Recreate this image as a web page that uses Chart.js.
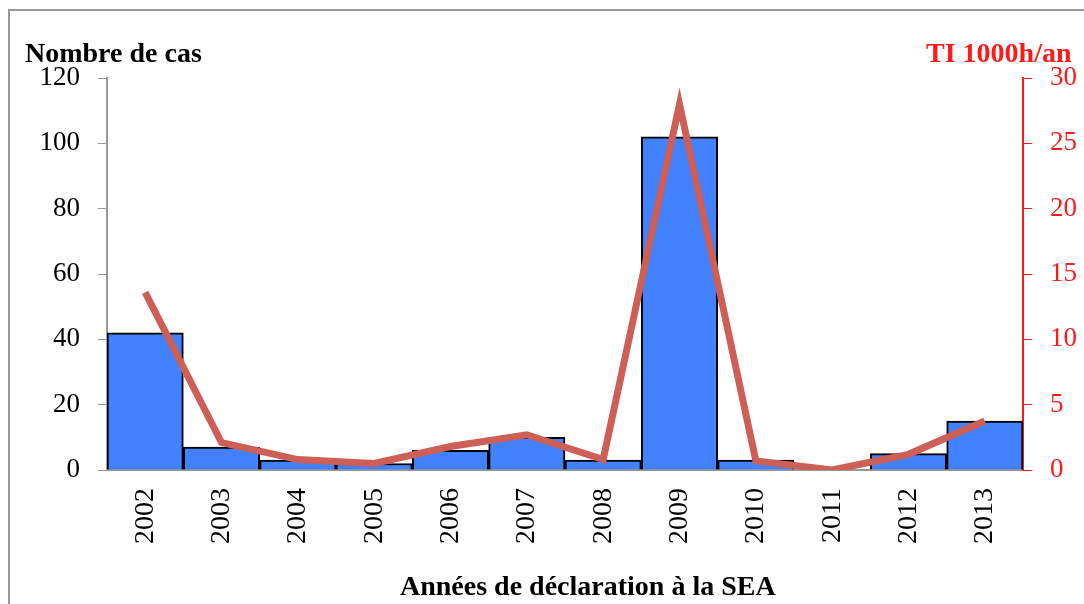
<!DOCTYPE html>
<html>
<head>
<meta charset="utf-8">
<script src="https://cdn.jsdelivr.net/npm/chart.js@4/dist/chart.umd.min.js"></script>
<style>
    body { margin: 0; background: #fff; }
    #wrap { position: relative; width: 1084px; height: 604px; overflow: hidden; }
    #frame { position: absolute; left: 8px; top: 9px; width: 1100px; height: 620px; border-left: 2px solid #999; border-top: 2px solid #999; }
    canvas { position: absolute; left: 0; top: 0; }
    .title { position: absolute; font-family: "Liberation Serif", serif; font-weight: bold; font-size: 28px; white-space: nowrap; line-height: 1; }
</style>
</head>
<body>
<div id="wrap">
    <div id="frame"></div>
    <canvas id="chart" width="1084" height="604"></canvas>
    <div class="title" style="left:25px; top:39px; color:#000;">Nombre de cas</div>
    <div class="title" style="left:926px; top:39px; color:#ff1a1a;">TI 1000h/an</div>
    <div class="title" style="left:400px; top:572px; color:#000;">Années de déclaration à la SEA</div>
</div>
<script>
const years = ["2002", "2003", "2004", "2005", "2006", "2007", "2008", "2009", "2010", "2011", "2012", "2013"];
const caseCounts = [42, 7, 3, 2, 6, 10, 3, 102, 3, 0, 5, 15];
const incidence = [13.6, 2.1, 0.8, 0.5, 1.8, 2.7, 0.8, 28, 0.7, 0, 1.2, 3.75];

const FONT = { family: "Liberation Serif", size: 27 };
const XFONT = { family: "Liberation Serif", size: 28 };

new Chart(document.getElementById("chart"), {
    data: {
        labels: years,
        datasets: [
            {
                type: "line",
                data: incidence,
                yAxisID: "y2",
                borderColor: "#cd5f57",
                borderWidth: 7,
                pointRadius: 0,
                tension: 0,
                order: 0
            },
            {
                type: "bar",
                data: caseCounts,
                yAxisID: "y",
                backgroundColor: "#4281ff",
                borderColor: "#000",
                borderWidth: 2,
                borderSkipped: "bottom",
                barPercentage: 1,
                categoryPercentage: 1,
                order: 1
            }
        ]
    },
    options: {
        responsive: false,
        animation: false,
        layout: { padding: { top: 78, left: 0, right: 0, bottom: 0 } },
        plugins: { legend: { display: false }, tooltip: { enabled: false } },
        scales: {
            x: {
                grid: { drawOnChartArea: false, drawTicks: false },
                border: { color: "#999", width: 2 },
                ticks: { font: XFONT, color: "#000", minRotation: 90, maxRotation: 90, padding: 18 },
                afterFit: s => { s.height = 134; }
            },
            y: {
                position: "left",
                min: 0, max: 120,
                grid: { drawOnChartArea: false, color: "#999", tickLength: 9 },
                border: { color: "#999", width: 2 },
                ticks: { stepSize: 20, font: FONT, color: "#000", padding: 18 },
                afterFit: s => { s.width = 107; }
            },
            y2: {
                position: "right",
                min: 0, max: 30,
                grid: { drawOnChartArea: false, color: "#ff1a1a", tickLength: 9 },
                border: { color: "#ff1a1a", width: 2 },
                ticks: { stepSize: 5, font: FONT, color: "#ff1a1a", padding: 18 },
                afterFit: s => { s.width = 61; }
            }
        }
    }
});
</script>
</body>
</html>
